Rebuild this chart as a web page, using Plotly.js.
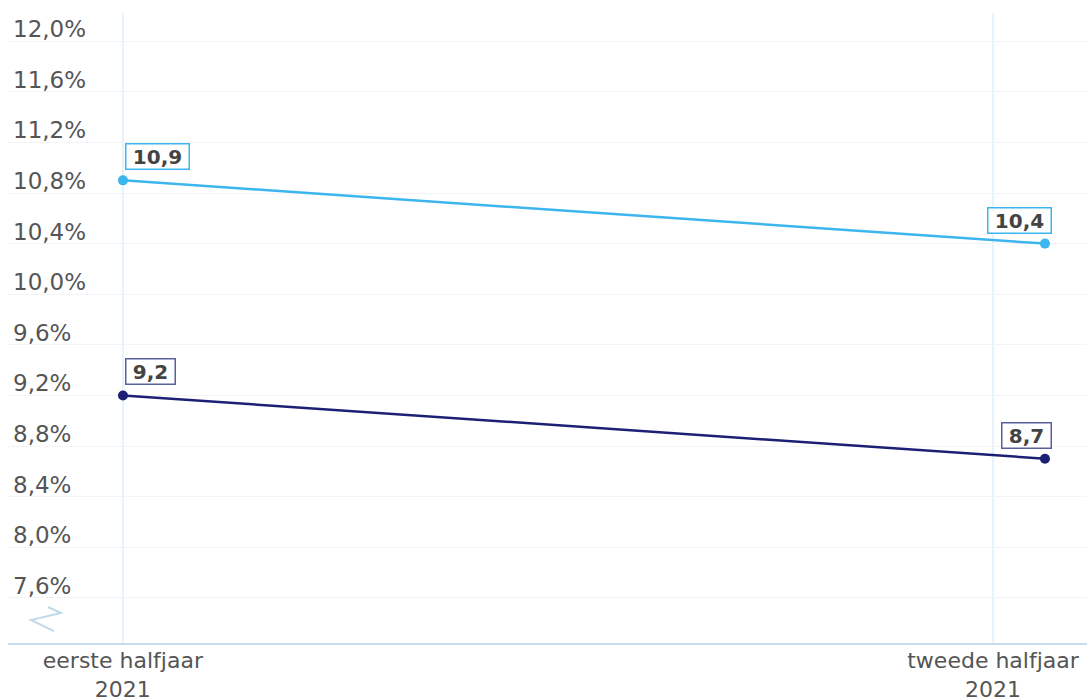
<!DOCTYPE html>
<html>
<head>
<meta charset="utf-8">
<script src="https://cdn.plot.ly/plotly-3.0.1.min.js"></script>
<style>html,body{margin:0;padding:0;background:#fff;}#chart{width:1091px;height:700px;}</style>
</head>
<body>
<div id="chart"></div>
<script>
// Data
const categories = ["eerste halfjaar<br>2021", "tweede halfjaar<br>2021"];
const seriesTopName = "Reeks 1";
const seriesTop = [10.9, 10.4];
const seriesBottomName = "Reeks 2";
const seriesBottom = [9.2, 8.7];
const yTicks = [7.6, 8.0, 8.4, 8.8, 9.2, 9.6, 10.0, 10.4, 10.8, 11.2, 11.6, 12.0];

const colTop = "#3db5ef";
const colBottom = "#1c1f73";
const fontFam = "DejaVu Sans, Arial, sans-serif";

function fmt(v){ return v.toFixed(1).replace(".", ","); }

const traces = [
  { // carrier trace for the category axis with ticks and gridlines
    x: categories.map((c, i) => i), y: [null, null], xaxis: "x", yaxis: "y",
    mode: "lines", hoverinfo: "skip", showlegend: false
  },
  {
    name: seriesTopName, x: categories, y: seriesTop, xaxis: "x2", yaxis: "y",
    mode: "lines+markers", line: {color: colTop, width: 2.5},
    marker: {color: colTop, size: 10}, hoverinfo: "skip"
  },
  {
    name: seriesBottomName, x: categories, y: seriesBottom, xaxis: "x2", yaxis: "y",
    mode: "lines+markers", line: {color: colBottom, width: 2.5},
    marker: {color: colBottom, size: 10}, hoverinfo: "skip"
  }
];

const annotations = [];
function addLabels(vals, color){
  vals.forEach((v, i) => {
    const first = i === 0;
    annotations.push({
      x: categories[i], y: v, xref: "x2", yref: "y",
      text: "&nbsp;<b>" + fmt(v) + "</b>&nbsp;",
      showarrow: false,
      xanchor: first ? "left" : "right",
      yanchor: "bottom",
      xshift: first ? 2 : 7,
      yshift: 10,
      font: {family: fontFam, size: 20, color: "#444"},
      bgcolor: "#ffffff",
      bordercolor: color,
      borderwidth: 1.5,
      borderpad: 0
    });
  });
}
addLabels(seriesTop, colTop);
addLabels(seriesBottom, "#5b5f9c");

const layout = {
  width: 1091, height: 700,
  margin: {l: 8, r: 4, t: 13, b: 57},
  paper_bgcolor: "#ffffff", plot_bgcolor: "#ffffff",
  separators: ",.",
  showlegend: false,
  font: {family: fontFam, color: "#555"},
  xaxis: {
    type: "linear",
    range: [-0.132, 1.108],
    tickvals: categories.map((c, i) => i),
    ticktext: categories,
    showgrid: true, gridcolor: "#e4f3fc", gridwidth: 1.5,
    zeroline: false,
    showline: true, linecolor: "#c6dcea", linewidth: 1.5,
    ticks: "", ticklabelstandoff: -3,
    tickfont: {family: fontFam, size: 22, color: "#555"},
    fixedrange: true
  },
  xaxis2: {
    type: "category",
    overlaying: "x",
    range: [-0.1247, 1.0456],
    visible: false,
    fixedrange: true
  },
  yaxis: {
    range: [7.243, 12.223],
    tickvals: yTicks,
    ticktext: yTicks.map(v => fmt(v) + "%"),
    ticklabelposition: "inside top",
    ticklabelshift: 4,
    ticklabelstandoff: 2,
    showgrid: true, gridcolor: "#f3f4f5", gridwidth: 1,
    zeroline: false, showline: false, ticks: "",
    tickfont: {family: fontFam, size: 23, color: "#555"},
    fixedrange: true
  },
  shapes: [{
    type: "path", xref: "paper", yref: "paper",
    path: "M 0.0371 0.0571 L 0.0491 0.0476 L 0.0213 0.0365 L 0.0426 0.019",
    line: {color: "#bfd9ea", width: 2}
  }],
  annotations: annotations
};

Plotly.newPlot("chart", traces, layout, {displayModeBar: false, staticPlot: true});
</script>
</body>
</html>
